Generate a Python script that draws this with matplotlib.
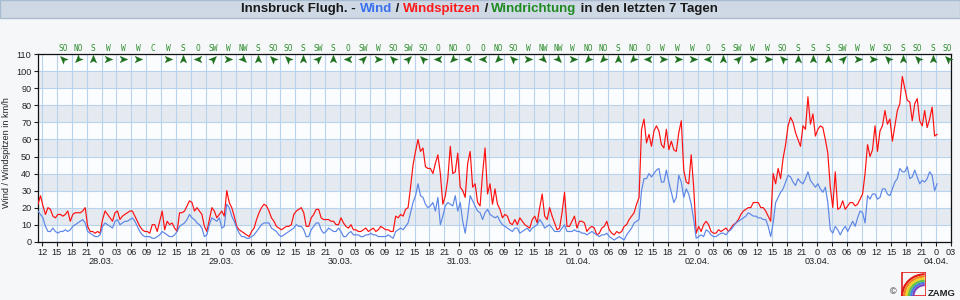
import numpy as np
import matplotlib
matplotlib.use("Agg")
import matplotlib.pyplot as plt
from matplotlib.path import Path
from matplotlib.markers import MarkerStyle
from matplotlib.patches import Rectangle, Wedge
import matplotlib.transforms as mtransforms

# ---------------- data (hours after 27.03. 12:00, half-hourly readings) ----------------
start_hour = -0.8
step_hours = 0.5

gusts = [22, 27, 21, 16, 20, 19, 15, 14, 16, 16,
         15, 16, 18, 12, 16, 17, 17, 17, 18, 20,
         9, 6, 6, 5, 6, 5, 13, 18, 16, 14,
         12, 17, 18, 13, 15, 16, 17, 18, 18, 15,
         12, 9, 7, 6, 6, 5, 10, 10, 6, 12,
         18, 7, 12, 10, 11, 8, 6, 17, 17, 18,
         21, 24, 23, 18, 20, 18, 16, 9, 6, 13,
         20, 18, 14, 16, 18, 15, 30, 23, 20, 15,
         9, 7, 6, 5, 4, 3, 6, 8, 13, 17,
         20, 22, 21, 18, 14, 12, 9, 8, 7, 8,
         9, 9, 10, 16, 18, 19, 20, 17, 9, 9,
         14, 16, 19, 19, 14, 13, 13, 13, 12, 12,
         10, 10, 14, 11, 9, 8, 10, 7, 7, 6,
         6, 7, 8, 6, 7, 8, 6, 7, 9, 8,
         7, 7, 6, 6, 15, 14, 16, 15, 19, 20,
         32, 45, 53, 60, 53, 55, 44, 43, 43, 40,
         46, 51, 40, 22, 27, 37, 56, 40, 41, 52,
         32, 30, 26, 46, 53, 32, 34, 23, 21, 40,
         55, 28, 34, 22, 31, 22, 19, 14, 16, 15,
         11, 10, 13, 10, 14, 12, 10, 9, 8, 13,
         15, 11, 20, 28, 15, 13, 20, 15, 11, 7,
         8, 17, 29, 9, 9, 12, 15, 8, 12, 12,
         11, 6, 8, 9, 8, 4, 5, 8, 9, 12,
         7, 5, 4, 6, 5, 6, 9, 10, 13, 15,
         17, 22, 26, 66, 72, 58, 63, 56, 65, 68,
         65, 57, 55, 66, 54, 59, 54, 53, 64, 71,
         42, 35, 34, 51, 32, 5, 9, 6, 10, 12,
         10, 6, 5, 5, 7, 6, 7, 8, 6, 8,
         10, 11, 13, 16, 18, 19, 20, 20, 23, 23,
         23, 20, 20, 18, 15, 12, 40, 34, 43, 37,
         49, 57, 68, 73, 70, 64, 60, 56, 68, 66,
         85, 69, 75, 62, 66, 68, 67, 60, 52, 32,
         20, 41, 19, 20, 24, 19, 21, 23, 23, 21,
         22, 25, 28, 40, 57, 50, 54, 68, 53, 65,
         68, 77, 69, 72, 59, 68, 77, 81, 97, 90,
         83, 82, 71, 81, 84, 71, 68, 77, 67, 72,
         79, 62, 63]

wind = [18, 16, 14, 9, 6, 6, 8, 6, 5, 6,
        6, 7, 6, 7, 9, 10, 11, 12, 13, 11,
        6, 5, 4, 3, 3, 4, 9, 11, 10, 9,
        8, 12, 13, 10, 11, 12, 12, 13, 14, 12,
        9, 6, 4, 3, 3, 3, 2, 2, 3, 4,
        6, 5, 4, 3, 3, 4, 6, 9, 10, 11,
        13, 16, 14, 13, 11, 10, 8, 3, 4, 10,
        14, 13, 12, 14, 8, 9, 22, 20, 15, 12,
        8, 5, 3, 3, 2, 2, 3, 4, 6, 8,
        10, 11, 11, 11, 8, 7, 6, 4, 3, 4,
        5, 6, 7, 8, 10, 9, 9, 7, 3, 3,
        7, 9, 11, 11, 7, 5, 6, 8, 7, 6,
        6, 8, 6, 3, 3, 5, 6, 4, 4, 4,
        3, 3, 4, 4, 5, 4, 4, 3, 3, 3,
        3, 4, 3, 2, 6, 7, 8, 7, 9, 11,
        17, 23, 27, 34, 27, 26, 22, 20, 21, 23,
        18, 26, 10, 15, 21, 23, 22, 21, 27, 18,
        23, 12, 5, 15, 27, 24, 21, 18, 17, 13,
        17, 19, 16, 15, 14, 15, 12, 10, 9, 8,
        7, 6, 8, 8, 5, 6, 7, 8, 6, 8,
        9, 10, 13, 11, 8, 9, 10, 8, 6, 6,
        6, 8, 10, 6, 6, 6, 7, 6, 6, 5,
        5, 4, 5, 6, 5, 4, 3, 4, 4, 5,
        3, 2, 1, 2, 3, 2, 1, 4, 6, 8,
        11, 12, 13, 30, 37, 37, 40, 38, 40, 42,
        43, 35, 35, 42, 35, 29, 23, 26, 39, 35,
        26, 31, 28, 22, 13, 2, 3, 4, 3, 7,
        6, 4, 3, 3, 4, 5, 5, 4, 6, 7,
        9, 11, 12, 13, 14, 15, 17, 16, 15, 15,
        14, 14, 13, 13, 9, 3, 11, 23, 26, 29,
        31, 35, 39, 38, 35, 33, 37, 35, 34, 37,
        41, 36, 34, 32, 34, 31, 29, 32, 23, 7,
        5, 9, 7, 4, 7, 9, 6, 9, 12, 9,
        14, 18, 17, 11, 27, 25, 28, 28, 25, 26,
        31, 31, 28, 27, 31, 35, 37, 43, 41, 41,
        44, 37, 38, 42, 38, 34, 36, 35, 37, 41,
        39, 30, 34]

directions = ["SO", "NO", "S", "W", "W", "W", "C", "W", "S", "O",
              "SW", "W", "NW", "S", "SO", "SO", "S", "SW", "S", "O",
              "SW", "W", "SO", "SW", "SO", "O", "NO", "O", "O", "NO",
              "SO", "W", "NW", "NW", "W", "NO", "NO", "S", "NO", "O",
              "W", "W", "W", "O", "S", "SW", "W", "W", "SO", "S",
              "S", "S", "SW", "W", "W", "SO", "S", "SO", "S", "SO"]

hour_cycle = ["12", "15", "18", "21", "0", "03", "06", "09"]
date_labels = ["28.03.", "29.03.", "30.03.", "31.03.", "01.04.", "02.04.", "03.04.", "04.04."]

# ---------------- figure ----------------
plt.rcParams['font.family'] = ['Liberation Sans', 'DejaVu Sans']
fig = plt.figure(figsize=(9.6, 3.0), dpi=100, facecolor='#f6f7f9')

ax = fig.add_axes([38/960, 58.3/300, 913/960, 187.4/300])
ax.set_facecolor('#fbfcfd')

gust_hours = start_hour + step_hours*np.arange(len(gusts))
wind_hours = start_hour + step_hours*np.arange(len(wind))

ax.set_xlim(-0.8, 183)
ax.set_ylim(0, 110)

for lo in range(10, 110, 20):
    ax.axhspan(lo, lo+10, color='#e5eaf0', zorder=0, lw=0)

tick_hours = np.arange(0, 184, 3)
tick_labels = [hour_cycle[i % len(hour_cycle)] for i in range(len(tick_hours))]
ax.set_xticks(tick_hours)
ax.set_xticklabels(tick_labels)
ax.set_yticks(np.arange(0, 111, 10))
ax.grid(True, color='#b7d3ee', lw=0.8, zorder=1)
ax.set_axisbelow(True)
ax.tick_params(axis='both', direction='out', length=3, width=0.8, labelsize=6.6,
               colors='#222222', pad=1.8)
for sp in ax.spines.values():
    sp.set_color('#111111')
    sp.set_linewidth(0.9)

ax.plot(gust_hours, gusts, color='#ff1010', lw=0.85, zorder=3)
ax.plot(wind_hours, wind, color='#5c86e6', lw=0.85, zorder=4)

# date labels under midnight ticks
trans = mtransforms.blended_transform_factory(ax.transData, ax.transAxes)
for i, d in enumerate(date_labels):
    ax.text(12 + 24*i, -0.108, d, transform=trans, ha='center', va='center',
            fontsize=6.6, color='#222222')

# wind direction labels and arrows
angle_of = {"S": 90, "W": 0, "O": 180, "N": 270, "SO": 135, "NO": 225, "SW": 45, "NW": 315}
arrow_path = Path([(1, 0), (-0.8, 0.75), (-0.35, 0), (-0.8, -0.75), (1, 0)],
                  [Path.MOVETO, Path.LINETO, Path.LINETO, Path.LINETO, Path.CLOSEPOLY])
dir_hours = np.linspace(4.3, 182.3, len(directions))
for h, d in zip(dir_hours, directions):
    ax.text(h, 113.3, d, ha='center', va='center', fontsize=5.7, color='#2f8f2f',
            family='DejaVu Sans Mono', clip_on=False)
    if d in angle_of:
        m = MarkerStyle(arrow_path).rotated(deg=angle_of[d])
        ax.plot([h], [107.3], marker=m, markersize=6.3, color='#1c6f1c',
                markeredgewidth=0.2, linestyle='none', zorder=5, clip_on=False)

# y label
fig.text(7/960, 0.49, "Wind / Windspitzen in km/h", rotation=90, ha='center', va='center',
         fontsize=6.6, color='#222222')

# title bar
fig.patches.append(Rectangle((0, 1 - 17.5/300), 1, 17.5/300, transform=fig.transFigure,
                             facecolor='#cfd9e5', edgecolor='#a9bbcf', lw=1.0, zorder=0))
pieces = [("Innsbruck Flugh. - ", '#1a1a1a'), ("Wind", '#3a6ff0'), (" / ", '#1a1a1a'),
          ("Windspitzen", '#ff1a1a'), (" / ", '#1a1a1a'), ("Windrichtung", '#1f8a1f'),
          (" in den letzten 7 Tagen", '#1a1a1a')]
fig.canvas.draw()
r = fig.canvas.get_renderer()

def width_of(s, fs):
    t = fig.text(0, 0, s + "I", fontsize=fs, fontweight='bold')
    w = t.get_window_extent(r).width
    t.remove()
    t2 = fig.text(0, 0, "I", fontsize=fs, fontweight='bold')
    wi = t2.get_window_extent(r).width
    t2.remove()
    return w - wi

full = "".join(p for p, _ in pieces)
fs = 10.0
tot = width_of(full, fs)
fs = fs * 478.0 / tot
tot = width_of(full, fs)
x0 = 479.5 - tot/2
prefix = ""
for s, c in pieces:
    off = width_of(prefix, fs) if prefix else 0.0
    fig.text((x0 + off)/960, 1 - 9/300, s, fontsize=fs, fontweight='bold', color=c,
             ha='left', va='center')
    prefix += s

# logo
fig.text(893/960, 1 - 292/300, "©", fontsize=6.5, color='#222222', ha='center', va='center')
fig.text(928/960, 1 - 293/300, "ZAMG", fontsize=6.8, fontweight='bold', color='#222222',
         ha='left', va='center')
lax = fig.add_axes([901/960, 4/300, 25/960, 24/300])
lax.set_xlim(0, 1)
lax.set_ylim(0, 1)
lax.axis('off')
lax.add_patch(Rectangle((0.02, 0.02), 0.96, 0.96, fill=False, edgecolor='#e02020', lw=1.2))
cols = ['#e01818', '#f08020', '#f0d020', '#60c040', '#4080e0', '#8040c0']
for i, c in enumerate(cols):
    rad = 0.95 - i*0.09
    lax.add_patch(Wedge((0.95, 0.0), rad, 90, 180, width=0.09, facecolor=c, edgecolor='none'))

fig.savefig("out.png", dpi=100, facecolor=fig.get_facecolor())
